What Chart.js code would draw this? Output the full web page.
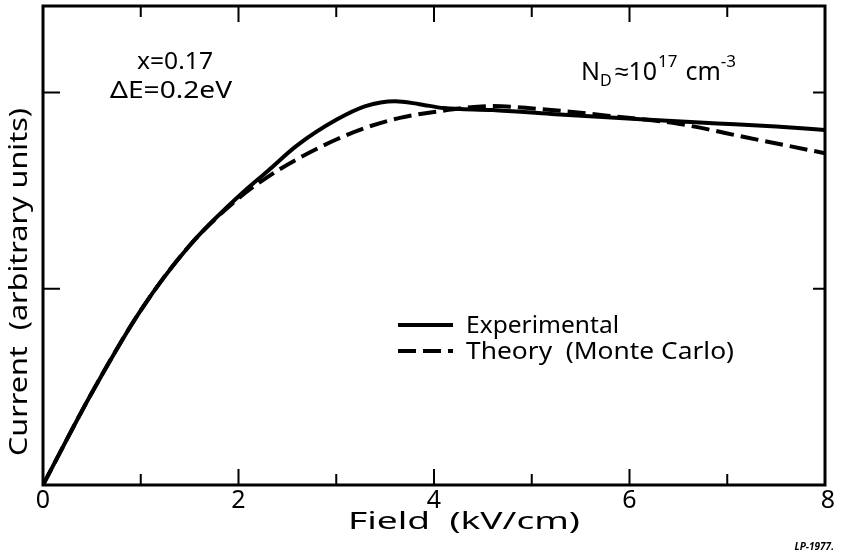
<!DOCTYPE html>
<html>
<head>
<meta charset="utf-8">
<script src="https://cdn.jsdelivr.net/npm/chart.js@4"></script>
<style>
  html, body { margin: 0; padding: 0; background: #fff; }
  #wrap { width: 841px; height: 552px; }
</style>
</head>
<body>
<div id="wrap"><canvas id="fieldChart" width="841" height="552"></canvas></div>
<script>
// =====================
// Data
// =====================
const fieldExp = [0, 0.5, 1.0, 1.5, 2.0, 2.3, 2.6, 3.0, 3.3, 3.6, 3.85, 4.1, 4.6, 5.2, 6.2, 6.9, 7.5, 8.0];
const currentExp = [0, 0.47, 0.89, 1.22, 1.47, 1.60, 1.73, 1.86, 1.93, 1.955, 1.94, 1.92, 1.91, 1.89, 1.86, 1.842, 1.826, 1.808];

const fieldTheory = [0, 0.5, 1.0, 1.5, 2.0, 2.3, 2.6, 3.0, 3.3, 3.65, 4.0, 4.6, 5.2, 5.8, 6.5, 7.2, 8.0];
const currentTheory = [0, 0.47, 0.89, 1.22, 1.46, 1.57, 1.66, 1.76, 1.82, 1.87, 1.90, 1.93, 1.91, 1.88, 1.84, 1.77, 1.69];

const xTicks = [0, 1, 2, 3, 4, 5, 6, 7, 8];
const xTickLabels = ["0", "", "2", "", "4", "", "6", "", "8"];
const yTicks = [0, 1, 2];

const seriesNames = ["Experimental", "Theory  (Monte Carlo)"];

const FONT = "'Noto Sans', sans-serif";
const INK = "#000";

function toPoints(xs, ys) {
  return xs.map((x, i) => ({ x: x, y: ys[i] }));
}

// draw text stretched sideways so it spans the given width
function wideText(ctx, str, left, cy, width, size) {
  ctx.save();
  ctx.font = size + "px " + FONT;
  ctx.textAlign = "left";
  ctx.textBaseline = "middle";
  const w = ctx.measureText(str).width;
  ctx.translate(left, cy);
  ctx.scale(width / w, 1);
  ctx.fillText(str, 0, 0);
  ctx.restore();
}

// =====================
// Frame, inward ticks, labels and legend
// =====================
const framePlugin = {
  id: "frame",
  afterDatasetsDraw(chart) {
    const { ctx, chartArea: a, scales } = chart;
    const xs = scales.x, ys = scales.y;
    ctx.save();
    ctx.strokeStyle = INK;
    ctx.lineWidth = 3;
    ctx.strokeRect(a.left, a.top, a.right - a.left, a.bottom - a.top);

    // ticks pointing into the plot
    ctx.lineWidth = 2;
    xTicks.forEach(v => {
      if (v === 0 || v === 8) return;
      const px = xs.getPixelForValue(v);
      const len = v % 2 === 0 ? 16 : 11;
      ctx.beginPath();
      ctx.moveTo(px, a.bottom); ctx.lineTo(px, a.bottom - len);
      ctx.moveTo(px, a.top); ctx.lineTo(px, a.top + len);
      ctx.stroke();
    });
    yTicks.forEach(v => {
      if (v === 0) return;
      const py = ys.getPixelForValue(v);
      ctx.beginPath();
      ctx.moveTo(a.left, py); ctx.lineTo(a.left + 17, py);
      ctx.moveTo(a.right, py); ctx.lineTo(a.right - 12, py);
      ctx.stroke();
    });

    // tick labels
    ctx.fillStyle = INK;
    ctx.font = "25px " + FONT;
    ctx.textAlign = "center";
    ctx.textBaseline = "middle";
    xTicks.forEach((v, i) => {
      if (!xTickLabels[i]) return;
      ctx.fillText(xTickLabels[i], xs.getPixelForValue(v) + (v === 8 ? 3 : 0), a.bottom + 16);
    });

    // axis titles
    wideText(ctx, "Field  (kV/cm)", 348, 522, 232, 24);
    ctx.save();
    ctx.translate(20, 456);
    ctx.rotate(-Math.PI / 2);
    wideText(ctx, "Current  (arbitrary units)", 0, 0, 348, 25);
    ctx.restore();

    // annotations
    wideText(ctx, "x=0.17", 137, 62, 76, 24);
    wideText(ctx, "\u0394E=0.2eV", 110, 91, 122, 24);

    ctx.textAlign = "left";
    ctx.textBaseline = "alphabetic";
    let x = 581;
    ctx.font = "25px " + FONT;
    ctx.fillText("N", x, 80); x += ctx.measureText("N").width;
    ctx.font = "16px " + FONT;
    ctx.fillText("D", x, 86); x += ctx.measureText("D").width + 3;
    ctx.font = "25px " + FONT;
    ctx.fillText("\u224810", x, 80); x += ctx.measureText("\u224810").width + 1;
    ctx.font = "17px " + FONT;
    ctx.fillText("17", x, 67); x += ctx.measureText("17").width + 8;
    ctx.font = "25px " + FONT;
    ctx.fillText("cm", x, 80); x += ctx.measureText("cm").width;
    ctx.font = "17px " + FONT;
    ctx.fillText("-3", x, 67);

    // legend
    const rows = [326, 352];
    const widths = [153, 268];
    chart.data.datasets.forEach((ds, i) => {
      ctx.strokeStyle = ds.borderColor;
      ctx.lineWidth = 4;
      ctx.setLineDash(ds.borderDash || []);
      ctx.beginPath();
      ctx.moveTo(398, rows[i] - 1); ctx.lineTo(453, rows[i] - 1);
      ctx.stroke();
      ctx.setLineDash([]);
      wideText(ctx, seriesNames[i], 466, rows[i], widths[i], 24);
    });

    // plate number
    ctx.font = "italic bold 10px " + FONT;
    ctx.textAlign = "right";
    ctx.textBaseline = "alphabetic";
    ctx.fillText("LP-1977.", 834, 550);
    ctx.restore();
  }
};

// =====================
// Chart
// =====================
const ctx = document.getElementById("fieldChart");
new Chart(ctx, {
  type: "line",
  data: {
    datasets: [
      {
        label: seriesNames[0],
        data: toPoints(fieldExp, currentExp),
        borderColor: INK,
        borderWidth: 4,
        pointRadius: 0,
        cubicInterpolationMode: "monotone",
        fill: false
      },
      {
        label: seriesNames[1],
        data: toPoints(fieldTheory, currentTheory),
        borderColor: INK,
        borderWidth: 4,
        borderDash: [18, 7],
        pointRadius: 0,
        cubicInterpolationMode: "monotone",
        fill: false
      }
    ]
  },
  options: {
    responsive: false,
    animation: false,
    layout: { padding: { left: 43, right: 16, top: 6, bottom: 67 } },
    plugins: { legend: { display: false }, tooltip: { enabled: false } },
    scales: {
      x: {
        type: "linear",
        min: 0, max: 8,
        display: false
      },
      y: {
        type: "linear",
        min: 0, max: 2.44,
        display: false
      }
    }
  },
  plugins: [framePlugin]
});
</script>
</body>
</html>
